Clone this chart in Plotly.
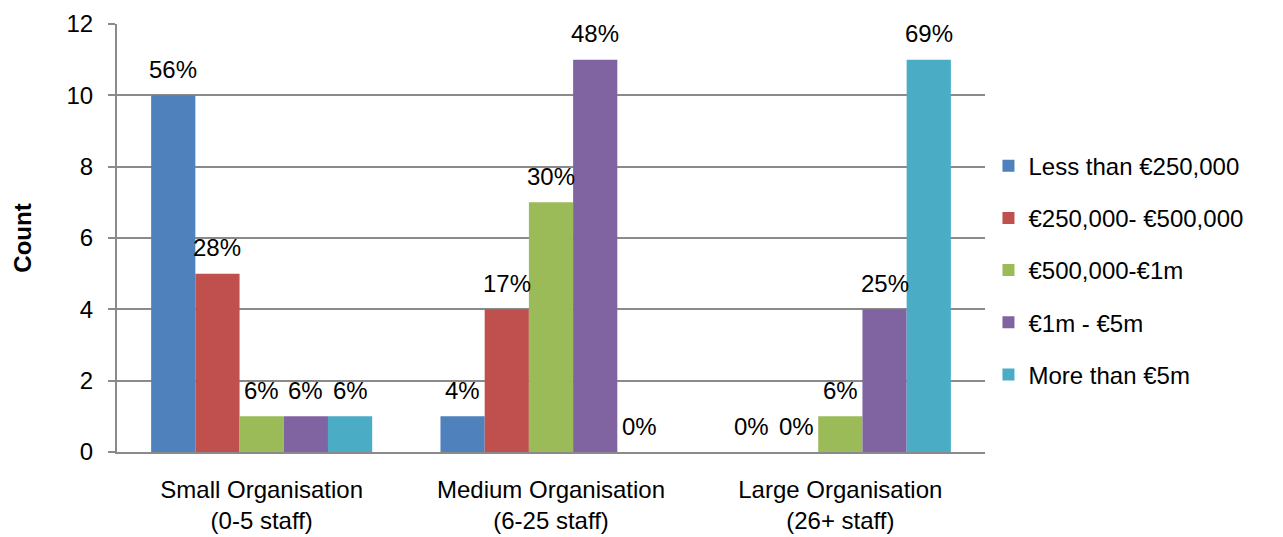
import plotly.graph_objects as go

# Organisation size categories (x axis)
categories = ["Small Organisation<br>(0-5 staff)",
              "Medium Organisation<br>(6-25 staff)",
              "Large Organisation<br>(26+ staff)"]

# Turnover bands (one series each)
series_names = ["Less than €250,000", "€250,000- €500,000", "€500,000-€1m",
                "€1m - €5m", "More than €5m"]

# Counts per band, in category order
less_250k = [10, 1, 0]
k250_500k = [5, 4, 0]
k500_1m = [1, 7, 1]
m1_5m = [1, 11, 4]
more_5m = [1, 0, 11]

series_values = [less_250k, k250_500k, k500_1m, m1_5m, more_5m]
colors = ["#4F81BD", "#C0504D", "#9BBB59", "#8064A2", "#4BACC6"]

FONT = "Liberation Sans, Arial, sans-serif"
FS = 24
BARGAP = 0.236

# share of each band within its organisation size
totals = [sum(s[j] for s in series_values) for j in range(len(categories))]

fig = go.Figure()
for name, vals, col in zip(series_names, series_values, colors):
    fig.add_trace(go.Bar(
        x=categories, y=vals, name=name, legendgroup=name,
        marker=dict(color=col, line=dict(width=0)),
    ))

n = len(series_values)
bar_w = (1 - BARGAP) / n
annotations = []
for i, vals in enumerate(series_values):
    for j, v in enumerate(vals):
        pct = round(v / totals[j] * 100)
        annotations.append(dict(
            x=j + (i - (n - 1) / 2) * bar_w, y=v, xref="x", yref="y",
            text=f"{pct}%", showarrow=False, yshift=26,
            font=dict(family=FONT, size=FS, color="#000000"),
        ))

fig.update_layout(
    width=1283, height=537,
    margin=dict(l=117, r=298, t=24, b=85),
    paper_bgcolor="white", plot_bgcolor="white",
    barmode="group", bargap=BARGAP, bargroupgap=0,
    font=dict(family=FONT, size=FS, color="#000000"),
    annotations=annotations,
    legend=dict(
        x=1.004, y=0.425, xanchor="left", yanchor="middle",
        font=dict(family=FONT, size=FS, color="#000000"),
        tracegroupgap=18, itemwidth=30,
    ),
    showlegend=True,
)
fig.update_xaxes(
    showgrid=False, showline=True, linecolor="#8a8a8a", linewidth=2,
    ticks="", tickfont=dict(family=FONT, size=FS), ticklabelstandoff=15,
    automargin=False,
)
fig.update_yaxes(
    range=[0, 12], dtick=2, showgrid=True, gridcolor="#8a8a8a", gridwidth=1.5,
    showline=True, linecolor="#8a8a8a", linewidth=2,
    ticks="outside", ticklen=7, tickcolor="#8a8a8a", tickwidth=1.5,
    tickfont=dict(family=FONT, size=FS), ticklabelstandoff=10,
    zeroline=False, automargin=False,
    title=dict(text="<b>Count</b>", font=dict(family=FONT, size=FS), standoff=28),
)

fig.write_html("out.html")
